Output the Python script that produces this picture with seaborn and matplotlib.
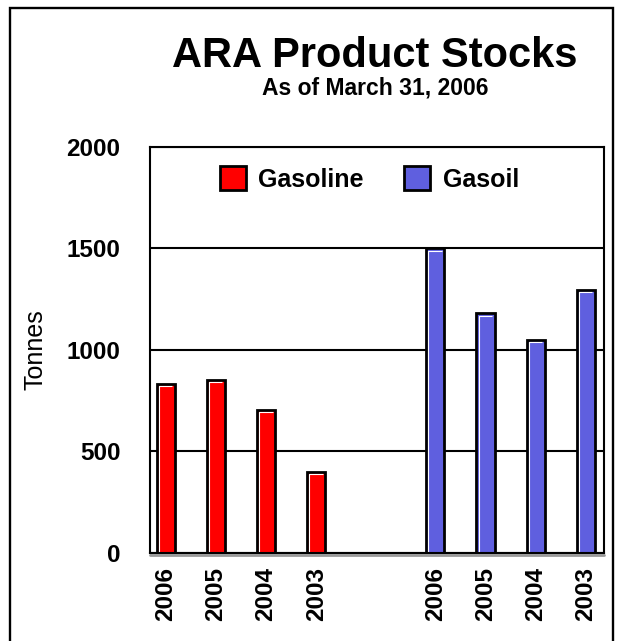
import pandas as pd
import numpy as np
import matplotlib
matplotlib.use('Agg')
import matplotlib.pyplot as plt
from matplotlib.patches import Patch, Rectangle
import seaborn as sns

# chart data
products = ['Gasoline', 'Gasoil']
years = ['2006', '2005', '2004', '2003']
gasoline = [833, 853, 705, 398]
gasoil = [1500, 1180, 1050, 1295]

colors = {'Gasoline': '#ff0000', 'Gasoil': '#5f5fdf'}

df = pd.DataFrame({
    'product': np.repeat(products, len(years)),
    'year': years * 2,
    'stock': gasoline + gasoil,
})
# bar slots: 4 per group, second group shifted right
group_offset = 5.37
df['pos'] = [i + g * group_offset for g in range(2) for i in range(len(years))]

sns.set_style('white')
plt.rcParams['font.family'] = ['Liberation Sans', 'DejaVu Sans']
plt.rcParams.update({'text.color': 'black', 'axes.labelcolor': 'black',
                     'xtick.color': 'black', 'ytick.color': 'black'})

fig = plt.figure(figsize=(6.22, 6.41), dpi=100)
ax = fig.add_axes([0.2404, 0.1373, 0.7307, 0.6334])

sns.barplot(data=df, x='pos', y='stock', hue='product', native_scale=True,
            dodge=False, width=0.36, palette=colors, saturation=1,
            edgecolor='black', linewidth=2, errorbar=None, legend=False, ax=ax)

ax.set_xlim(-0.32, 8.73)
ax.set_ylim(0, 2000)
ax.set_yticks([0, 500, 1000, 1500, 2000])
ax.set_xticks(df['pos'], labels=df['year'])
ax.tick_params(axis='x', length=0, pad=10, rotation=90, labelsize=17.5)
ax.tick_params(axis='y', length=0, pad=21, labelsize=17.5)
for lab in ax.get_xticklabels() + ax.get_yticklabels():
    lab.set_fontweight('bold')

ax.grid(axis='y', color='black', linewidth=1.5)
ax.set_axisbelow(True)
for sp in ax.spines.values():
    sp.set_visible(True)
    sp.set_color('black')
    sp.set_linewidth(1.5)

ax.set_xlabel('')
ax.set_ylabel('Tonnes', fontsize=18)
ax.yaxis.set_label_coords(-0.2255, 0.5)

# white highlight along the left and top edge inside each bar
inv = ax.transData.inverted()
for p in ax.patches:
    x0, w, h = p.get_x(), p.get_width(), p.get_height()
    px0, py0 = ax.transData.transform((x0, 0))
    px1, py1 = ax.transData.transform((x0 + w, h))
    pts = inv.transform([(px0 + 2.2, py0 + 1), (px0 + 2.2, py1 - 2.2), (px1 - 2.5, py1 - 2.2)])
    ax.plot(pts[:, 0], pts[:, 1], color='white', linewidth=0.8, solid_capstyle='butt')

# small grey shadow under the baseline
ax.plot([0, 1], [-0.006, -0.006], transform=ax.transAxes, color='#999999',
        linewidth=2, clip_on=False)

handles = [Patch(facecolor=colors[p], edgecolor='black', linewidth=2) for p in products]
ax.legend(handles, products, ncol=2, frameon=False, loc='upper left',
          bbox_to_anchor=(0.154, 0.952), handlelength=1.05, handleheight=1.1,
          handletextpad=0.5, columnspacing=1.6, borderpad=0, borderaxespad=0,
          prop={'weight': 'bold', 'size': 18})

fig.text(0.603, 1 - 67 / 641, 'ARA Product Stocks', ha='center', va='baseline',
         fontsize=30, fontweight='bold')
fig.text(0.603, 1 - 94 / 641, 'As of March 31, 2006', ha='center', va='baseline',
         fontsize=16.5, fontweight='bold')

# outer frame
fig.add_artist(Rectangle((10 / 622, -0.05), 603 / 622, 1.05 - 8 / 641,
                         transform=fig.transFigure, fill=False,
                         edgecolor='black', linewidth=1.7))

fig.savefig('out.png', dpi=100)
